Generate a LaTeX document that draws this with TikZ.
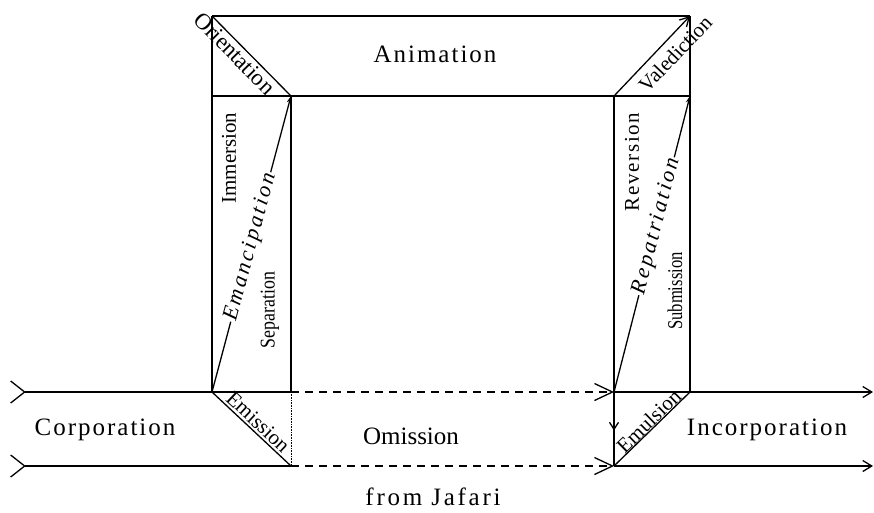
\documentclass[tikz,border=0pt]{standalone}
\usepackage{fontspec}
\setmainfont{Liberation Serif}
\usepackage{tikz}
\usetikzlibrary{arrows.meta, calc}

\tikzset{
  intake/.tip={Straight Barb[reversed, length=14pt, width=22pt]},
  gate/.tip={Straight Barb[length=18pt, width=17pt]},
  outlet/.tip={Straight Barb[length=9pt, width=11pt]},
  rise/.tip={Stealth[length=7pt, width=5pt]},
}

\begin{document}
\begin{tikzpicture}[x=1pt, y=-1pt,
    line width=1.3pt,
    flow/.style={dash pattern=on 8pt off 6pt},
    stage/.style={font=\fontsize{25}{30}\selectfont\addfontfeatures{LetterSpace=8}},
    phase/.style={font=\fontsize{21}{24}\selectfont, inner sep=2pt},
    drift/.style={font=\fontsize{22}{26}\selectfont\itshape\addfontfeatures{LetterSpace=12}, fill=white, inner sep=1pt}
  ]
  \useasboundingbox (0,0) rectangle (874,512);

  % Corners
  \coordinate (tl) at (212,16);
  \coordinate (tr) at (690,16);
  \coordinate (lt) at (212,96);
  \coordinate (li) at (291,96);
  \coordinate (ri) at (614,96);
  \coordinate (rt) at (690,96);
  \coordinate (lb) at (212,392);
  \coordinate (lc) at (291,392);
  \coordinate (ld) at (291,466);
  \coordinate (rb) at (614,392);
  \coordinate (rc) at (690,392);
  \coordinate (rd) at (614,466);
  \coordinate (in1) at (10,392);
  \coordinate (in2) at (10,466);
  \coordinate (out1) at (873,392);
  \coordinate (out2) at (873,466);

  % Top frame
  \draw (tl) -- (tr);
  \draw (lt) -- (rt);
  \draw (tl) -- (lb);
  \draw (tr) -- (rc);
  \draw (li) -- (lc);
  \draw[line width=0.6pt, densely dotted] (lc) -- (ld);
  \draw (ri) -- (rd);
  \draw[-{Straight Barb[length=7pt, width=9pt]}] (rb) -- ($(rb)!0.52!(rd)$);

  % Corner passages
  \draw (tl) -- (li) node[phase, font=\fontsize{23}{26}\selectfont, pos=0.38, below, sloped] {Orientation};
  \draw[-{Straight Barb[length=9pt, width=10pt]}] (ri) -- (tr) node[phase, pos=0.66, below=5pt, sloped] {Valediction};
  \draw (lb) -- (ld) node[phase, midway, above, sloped] {Emission};
  \draw (rd) -- (rc) node[phase, pos=0.53, above=-2pt, sloped] {Emulsion};

  % Column diagonals
  \draw[-rise] (lb) -- (li) node[drift, pos=0.49, sloped] {Emancipation};
  \draw[-rise] (rb) -- (rt) node[drift, pos=0.56, sloped] {Repatriation};

  % Column labels
  \node[phase, rotate=90] (immersion) at (229,158) {Immersion};
  \node[phase, rotate=90, xscale=0.85] (separation) at (270,310) {Separation};
  \node[phase, rotate=90, font=\fontsize{21}{24}\selectfont\addfontfeatures{LetterSpace=8}] (reversion) at (632,162) {Reversion};
  \node[phase, rotate=90, xscale=0.79] (submission) at (675,291) {Submission};

  % Flows
  \draw[{intake}-] (in1) -- (lb) -- (lc);
  \draw[flow, -{gate}] (lc) -- (rb);
  \draw[-{outlet}] (rb) -- (rc) -- (out1);
  \draw[{intake}-] (in2) -- (ld);
  \draw[flow, -{gate}] (ld) -- (rd);
  \draw[-{outlet}] (rd) -- (out2);

  % Stages
  \node[stage] (animation) at (435,54) {Animation};
  \node[stage] (corporation) at (105,430) {Corporation};
  \node[stage, font=\fontsize{25}{30}\selectfont] (omission) at (411,436) {Omission};
  \node[stage] (incorporation) at (767,430) {Incorporation};
  \node[stage, font=\fontsize{25}{30}\selectfont\addfontfeatures{LetterSpace=11}] (source) at (433,497) {from Jafari};
\end{tikzpicture}
\end{document}
